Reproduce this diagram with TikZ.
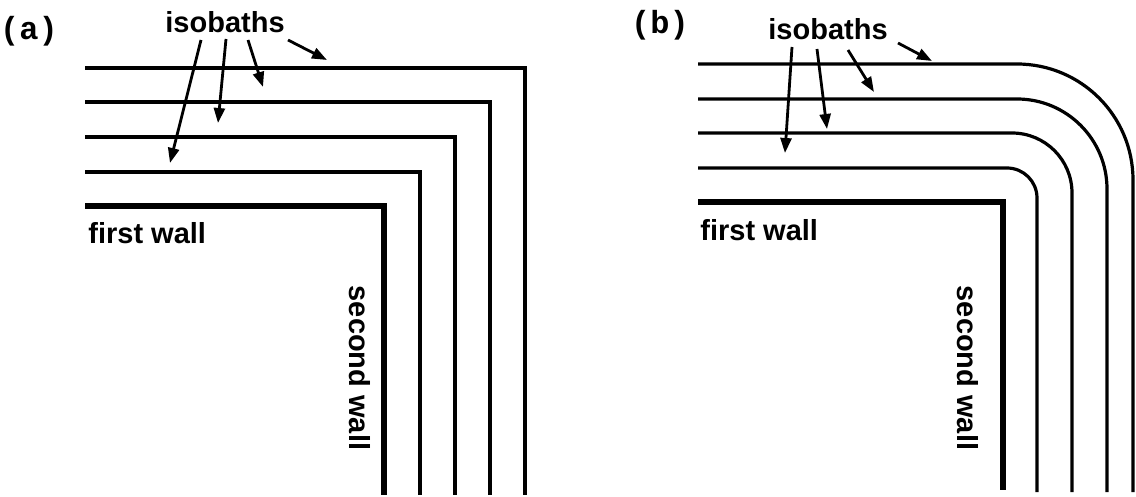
\documentclass[tikz,border=0pt]{standalone}
\usepackage{fontspec}
\setmainfont{Liberation Sans}
\newfontfamily\panelfont{Liberation Mono}
\usetikzlibrary{arrows.meta}

\begin{document}
\begin{tikzpicture}[x=0.5pt, y=-0.5pt,
        isobath/.style={line width=1.6pt},
        wall/.style={line width=2.7pt},
        arrow/.style={-{Triangle[length=7.5pt,width=5.5pt]}, line width=1.4pt},
        lbl/.style={inner sep=0pt, font=\fontsize{14.5}{17}\selectfont\bfseries},
        panel/.style={inner sep=0pt, font=\fontsize{16}{18}\selectfont\panelfont\bfseries}
    ]
    \useasboundingbox (0,0) rectangle (1136,497);

    % (a) sharp corners
    \node[panel] (pa) at (29,31) {(a)};
    \node[lbl, anchor=base west] (isoa) at (165,33) {isobaths};
    \draw[isobath] (85,68) -- (525,68) -- (525,495);
    \draw[isobath] (85,102) -- (490,102) -- (490,495);
    \draw[isobath] (85,137) -- (455,137) -- (455,495);
    \draw[isobath] (85,172) -- (420,172) -- (420,495);
    \draw[wall] (85,206) -- (384,206) -- (384,495);
    \node[lbl, anchor=base west] (firsta) at (88,244) {first wall};
    \node[lbl, rotate=-90] (seconda) at (360,368) {second wall};

    \coordinate (a1s) at (201,40);  \coordinate (a1e) at (170,163);
    \coordinate (a2s) at (226,39);  \coordinate (a2e) at (218,123);
    \coordinate (a3s) at (248,40);  \coordinate (a3e) at (263,87);
    \coordinate (a4s) at (288,40);  \coordinate (a4e) at (327,60);
    \draw[arrow] (a1s) -- (a1e);
    \draw[arrow] (a2s) -- (a2e);
    \draw[arrow] (a3s) -- (a3e);
    \draw[arrow] (a4s) -- (a4e);

    % (b) rounded corners
    \node[panel] (pb) at (660,25) {(b)};
    \node[lbl, anchor=base west] (isob) at (768,40) {isobaths};
    \draw[isobath, rounded corners=58pt] (698,64) -- (1133,64) -- (1133,492);
    \draw[isobath, rounded corners=45pt] (698,99) -- (1107,99) -- (1107,492);
    \draw[isobath, rounded corners=30pt] (698,133) -- (1072,133) -- (1072,492);
    \draw[isobath, rounded corners=15pt] (698,168) -- (1037,168) -- (1037,492);
    \draw[wall] (698,202) -- (1003,202) -- (1003,490);
    \node[lbl, anchor=base west] (firstb) at (700,241) {first wall};
    \node[lbl, rotate=-90] (secondb) at (968,368) {second wall};

    \coordinate (b1s) at (792,47);  \coordinate (b1e) at (785,153);
    \coordinate (b2s) at (817,49);  \coordinate (b2e) at (827,129);
    \coordinate (b3s) at (848,50);  \coordinate (b3e) at (874,92);
    \coordinate (b4s) at (898,43);  \coordinate (b4e) at (932,61);
    \draw[arrow] (b1s) -- (b1e);
    \draw[arrow] (b2s) -- (b2e);
    \draw[arrow] (b3s) -- (b3e);
    \draw[arrow] (b4s) -- (b4e);
\end{tikzpicture}
\end{document}
